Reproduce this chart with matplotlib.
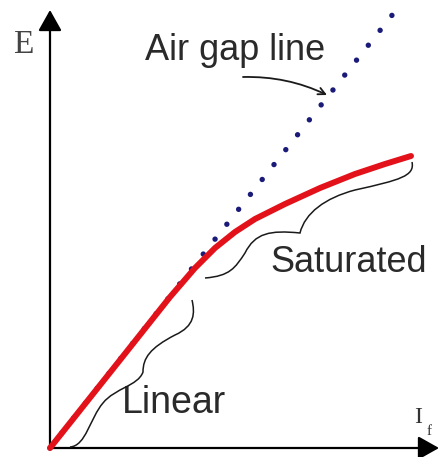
import matplotlib
matplotlib.use("Agg")
import matplotlib.pyplot as plt
from matplotlib.path import Path
from matplotlib.patches import PathPatch, FancyArrowPatch

# Open-circuit characteristic of a synchronous generator
field_current = [0, 0.70, 1.20, 1.45, 1.65, 1.85, 2.05, 2.35, 2.70, 3.05, 3.35, 3.61]
emf = [0, 0.88, 1.51, 1.80, 2.00, 2.16, 2.29, 2.44, 2.60, 2.74, 2.84, 2.92]

# Air gap line (unsaturated straight line through the origin)
airgap_current = [0, 3.43]
airgap_emf = [0, 4.34]

fig = plt.figure(figsize=(4.39, 4.57), dpi=100)
ax = fig.add_axes([0, 0, 1, 1])
ax.set_xlim(-0.50, 3.89)
ax.set_ylim(-0.09, 4.48)
ax.axis("off")

# axes with arrowheads
for end in [(0, 4.38), (3.89, 0)]:
    ax.add_patch(FancyArrowPatch((0, 0), end, arrowstyle="-|>,head_length=0.8,head_width=0.45",
                                 mutation_scale=16, lw=1.6, color="black",
                                 shrinkA=0, shrinkB=0, zorder=2))

# air gap line
ax.plot(airgap_current, airgap_emf, color="#1a1a78", lw=3.9,
        linestyle=(0, (0.01, 3.5)), dash_capstyle="round", zorder=3)

# magnetisation curve
ax.plot(field_current, emf, color="#e3121a", lw=4.3, solid_joinstyle="round",
        solid_capstyle="round", zorder=4)

# braces
def brace(verts):
    codes = [Path.MOVETO] + [Path.CURVE4] * (len(verts) - 1)
    ax.add_patch(PathPatch(Path(verts, codes), fill=False, lw=1.1,
                           edgecolor="#1a1a1a", zorder=5))

brace([(0.20, 0.01),
       (0.36, 0.02), (0.40, 0.30), (0.53, 0.45),
       (0.65, 0.60), (0.88, 0.62), (0.93, 0.76),
       (0.93, 0.90), (1.00, 1.00), (1.25, 1.13),
       (1.45, 1.22), (1.45, 1.35), (1.42, 1.48)])

brace([(1.55, 1.70),
       (1.80, 1.72), (1.85, 1.80), (1.95, 1.95),
       (2.05, 2.15), (2.20, 2.18), (2.50, 2.15),
       (2.55, 2.35), (2.75, 2.50), (3.05, 2.58),
       (3.50, 2.68), (3.65, 2.72), (3.62, 2.86)])

# labels
txt = dict(family="Liberation Sans", color="#2a2a2a", ha="left", va="baseline")
ax.text(0.95, 3.88, "Air gap line", fontsize=26, **txt)
ax.text(2.20, 1.76, "Saturated", fontsize=26, **txt)
ax.text(0.72, 0.35, "Linear", fontsize=27, **txt)

ax.text(-0.37, 3.95, "E", fontsize=24, family="Liberation Serif", color="#444444",
        ha="left", va="baseline")
ax.text(3.64, 0.25, "I", fontsize=17, family="Liberation Serif", color="#333333",
        ha="left", va="baseline")
ax.text(3.765, 0.13, "f", fontsize=11, family="Liberation Serif", color="#333333",
        ha="left", va="baseline")

ax.annotate("", xy=(2.77, 3.53), xytext=(1.93, 3.71),
            arrowprops=dict(arrowstyle="->,head_length=0.5,head_width=0.25", lw=1.3,
                            color="#1a1a1a", connectionstyle="arc3,rad=-0.12",
                            shrinkA=0, shrinkB=0))

fig.savefig("out.png", dpi=100)
